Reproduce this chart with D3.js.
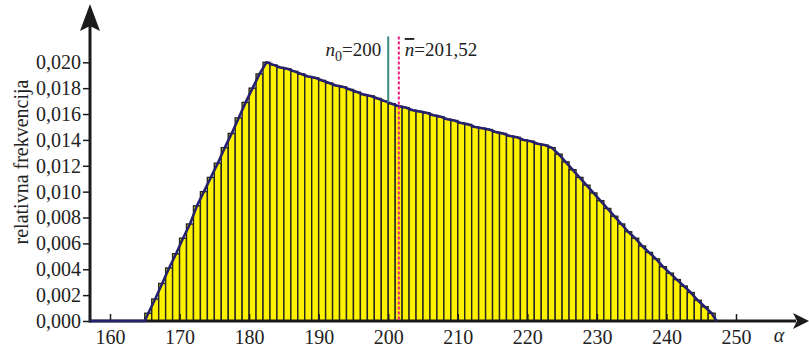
<!DOCTYPE html>
<html>
<head>
<meta charset="utf-8">
<script src="https://cdn.jsdelivr.net/npm/d3@7"></script>
<style>
  html, body { margin: 0; padding: 0; background: #fff; }
  svg { display: block; }
  svg text { font-family: "Liberation Serif", "Times New Roman", Times, serif; }
</style>
</head>
<body>
<svg id="chart" width="809" height="349"></svg>
<script>
// Class starts (width 1) and relative frequencies
const classStart = [
  165,166,167,168,169,170,171,172,173,174,175,176,177,178,179,180,181,182,
  183,184,185,186,187,188,189,190,191,192,193,194,195,196,197,198,199,
  200,201,202,203,204,205,206,207,208,209,210,211,212,213,214,215,216,217,218,219,220,221,222,
  223,224,225,226,227,228,229,230,231,232,233,234,235,236,237,238,239,240,241,242,243,244,245,246
];
const relFreq = [
  0.0006,0.0017,0.0029,0.0041,0.0052,0.0064,0.0075,0.0089,0.0100,0.0111,0.0122,0.0134,0.0145,0.0157,0.0169,0.0180,0.0191,0.0200,
  0.0198,0.0196,0.0195,0.0193,0.0191,0.0189,0.0188,0.0186,0.0184,0.0182,0.0181,0.0179,0.0177,0.0175,0.0174,0.0172,0.0170,
  0.0168,0.0166,0.0165,0.0163,0.0162,0.0161,0.0159,0.0158,0.0156,0.0155,0.0153,0.0152,0.0150,0.0149,0.0148,0.0146,0.0145,0.0143,0.0142,0.0140,0.0139,0.0137,0.0136,
  0.0134,0.0129,0.0123,0.0117,0.0111,0.0105,0.0099,0.0093,0.0087,0.0081,0.0075,0.0069,0.0064,0.0058,0.0053,0.0048,0.0042,0.0037,0.0032,0.0027,0.0022,0.0016,0.0011,0.0006
];
const classWidth = 1;

// Frequency polygon: runs along zero from the axis, then through class midpoints
const polygonLead = [157.1, 165.0];
const polygonTail = [247.2];

// Axis ticks and labels
const xTicks = [160,170,180,190,200,210,220,230,240,250];
const xTickLabels = ["160","170","180","190","200","210","220","230","240","250"];
const yTicks = [0,0.002,0.004,0.006,0.008,0.010,0.012,0.014,0.016,0.018,0.020];
const yTickLabels = ["0,000","0,002","0,004","0,006","0,008","0,010","0,012","0,014","0,016","0,018","0,020"];

// Reference lines: mode n0 and mean n-bar
const modeValue = 200;
const meanValue = 201.52;
const refTop = 0.0220;

const svg = d3.select("#chart");

const x = d3.scaleLinear().domain([160, 250]).range([110, 736]);
const y = d3.scaleLinear().domain([0, 0.020]).range([321, 62.3]);

const ink = "#1b1b1b";
const serif = "'Liberation Serif', 'Times New Roman', Times, serif";

// Bars
svg.append("g")
  .selectAll("rect")
  .data(classStart.map((s, i) => ({ s, v: relFreq[i] })))
  .join("rect")
  .attr("x", d => x(d.s))
  .attr("width", d => x(d.s + classWidth) - x(d.s))
  .attr("y", d => y(d.v))
  .attr("height", d => y(0) - y(d.v))
  .attr("fill", "#fff200")
  .attr("stroke", "#262626")
  .attr("stroke-width", 1.4);

// x axis ticks pointing up
const xAxis = d3.axisBottom(x)
  .tickValues(xTicks)
  .tickFormat((d, i) => xTickLabels[i])
  .tickSizeInner(-7)
  .tickSizeOuter(0)
  .tickPadding(9);
const gx = svg.append("g").attr("transform", `translate(0,${y(0)})`).call(xAxis);
gx.attr("font-family", serif).attr("font-size", 20);
gx.select(".domain").remove();
gx.selectAll(".tick line").attr("stroke", ink).attr("stroke-width", 1.5);
gx.selectAll(".tick text").attr("fill", "#222");

// y axis ticks pointing left
const yAxis = d3.axisLeft(y)
  .tickValues(yTicks)
  .tickFormat((d, i) => yTickLabels[i])
  .tickSizeInner(7)
  .tickSizeOuter(0)
  .tickPadding(2);
const gy = svg.append("g").attr("transform", `translate(${x(157.125)},0)`).call(yAxis);
gy.attr("font-family", serif).attr("font-size", 20);
gy.select(".domain").remove();
gy.selectAll(".tick line").attr("stroke", ink).attr("stroke-width", 1.5);
gy.selectAll(".tick text").attr("fill", "#222");

// Axis lines with arrow heads
const x0 = x(157.125), y0 = y(0);
svg.append("line").attr("x1", x0).attr("x2", 796).attr("y1", y0).attr("y2", y0)
  .attr("stroke", ink).attr("stroke-width", 3);
svg.append("path")
  .attr("d", `M809,${y0} L793,${y0 - 8} L797,${y0} L793,${y0 + 8} Z`)
  .attr("fill", ink);
svg.append("line").attr("x1", x0).attr("x2", x0).attr("y1", y0 + 1.5).attr("y2", 26)
  .attr("stroke", ink).attr("stroke-width", 3);
svg.append("path")
  .attr("d", `M${x0},4 L${x0 - 10},31 L${x0},26 L${x0 + 10},31 Z`)
  .attr("fill", ink);

// Frequency polygon
const polyPts = [
  ...polygonLead.map(a => [a, 0]),
  ...classStart.map((s, i) => [s + classWidth / 2, relFreq[i]]),
  ...polygonTail.map(a => [a, 0])
];
svg.append("path")
  .datum(polyPts)
  .attr("fill", "none")
  .attr("stroke", "#25216e")
  .attr("stroke-width", 2.6)
  .attr("stroke-linejoin", "round")
  .attr("d", d3.line().x(d => x(d[0])).y(d => y(d[1])));

// Polygon height at a given alpha
function polyAt(a) {
  for (let i = 1; i < polyPts.length; i++) {
    const [a0, v0] = polyPts[i - 1], [a1, v1] = polyPts[i];
    if (a >= a0 && a <= a1) return v0 + (v1 - v0) * (a - a0) / (a1 - a0);
  }
  return 0;
}

// Mode line (solid teal), stops at the polygon
svg.append("line")
  .attr("x1", x(modeValue)).attr("x2", x(modeValue))
  .attr("y1", y(refTop)).attr("y2", y(polyAt(modeValue)))
  .attr("stroke", "#3a8a82").attr("stroke-width", 2);

// Mean line (dashed magenta), down to the axis
svg.append("line")
  .attr("x1", x(meanValue)).attr("x2", x(meanValue))
  .attr("y1", y(refTop)).attr("y2", y(0) - 1.5)
  .attr("stroke", "#ec1a7e").attr("stroke-width", 2)
  .attr("stroke-dasharray", "3,2");

// Annotations
const t1 = svg.append("text")
  .attr("x", x(modeValue) - 7).attr("y", 56)
  .attr("text-anchor", "end")
  .attr("font-family", serif)
  .attr("font-size", 19).attr("fill", "#222");
t1.append("tspan").attr("font-style", "italic").text("n");
t1.append("tspan").attr("font-size", 14).attr("dy", 5).text("0");
t1.append("tspan").attr("dy", -5).text("=200");

const t2 = svg.append("text")
  .attr("x", x(meanValue) + 6).attr("y", 56)
  .attr("font-family", serif)
  .attr("font-size", 19).attr("fill", "#222");
t2.append("tspan").attr("font-style", "italic")
  .style("text-decoration", "overline").text("n");
t2.append("tspan").text("=201,52");

// Axis titles
svg.append("text")
  .attr("transform", "translate(28,162) rotate(-90)")
  .attr("text-anchor", "middle")
  .attr("font-family", serif)
  .attr("font-size", 20).attr("fill", "#222")
  .text("relativna frekvencija");

svg.append("text")
  .attr("x", 779).attr("y", 342)
  .attr("text-anchor", "middle")
  .attr("font-family", serif)
  .attr("font-size", 20).attr("font-style", "italic").attr("fill", "#222")
  .text("α");
</script>
</body>
</html>
